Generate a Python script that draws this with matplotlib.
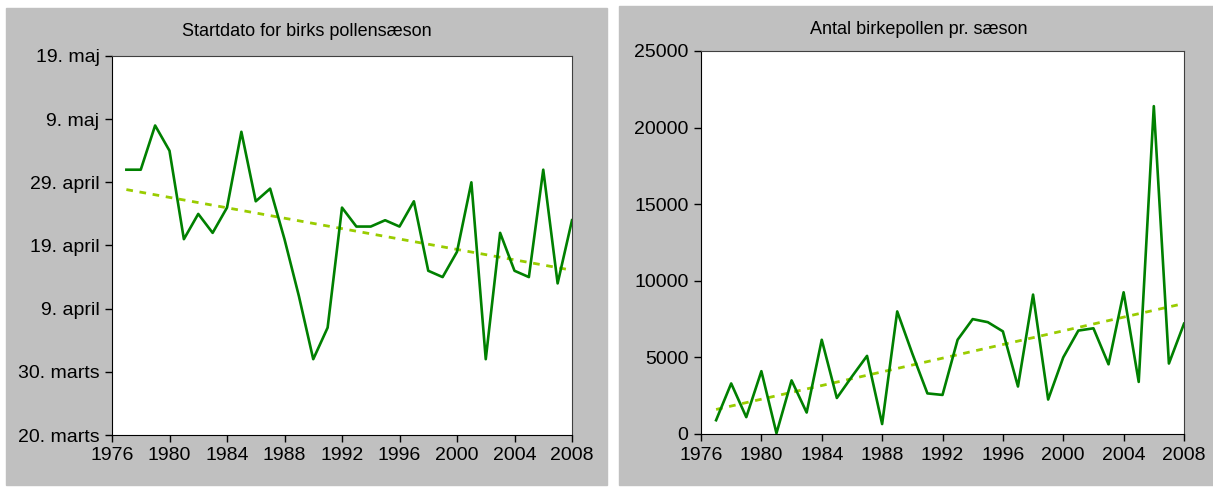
import numpy as np
import matplotlib
matplotlib.use('Agg')
import matplotlib.pyplot as plt
from matplotlib.patches import Rectangle

plt.rcParams['font.family'] = ['Liberation Sans', 'DejaVu Sans']

years = list(range(1977, 2009))

# startdato, dage efter 20. marts
start_days = [42, 42, 49, 45, 31, 35, 32, 36, 48, 37, 39, 31, 22, 12, 17, 36,
              33, 33, 34, 33, 37, 26, 25, 29, 40, 12, 32, 26, 25, 42, 24, 34]

# antal birkepollen pr. saeson
pollen = [900, 3300, 1100, 4100, 50, 3500, 1400, 6150, 2350, 3750, 5100, 650,
          8000, 5250, 2650, 2550, 6150, 7500, 7300, 6700, 3100, 9100, 2250, 5000,
          6750, 6900, 4550, 9250, 3400, 21400, 4600, 7200]

date_ticks = [0, 10, 20, 30, 40, 50, 60]
date_labels = ['20. marts', '30. marts', '9. april', '19. april',
               '29. april', '9. maj', '19. maj']
year_ticks = list(range(1976, 2009, 4))
pollen_ticks = [0, 5000, 10000, 15000, 20000, 25000]

LINE = '#008000'
TREND = '#99CC00'
PANEL = '#C0C0C0'


def style_axes(ax):
    for side in ['top', 'right']:
        ax.spines[side].set_color('#404040')
    for side in ['left', 'bottom']:
        ax.spines[side].set_color('black')
    ax.tick_params(direction='out', length=5, width=1, labelsize=14, pad=4)
    ax.set_xlim(1976, 2008)
    ax.set_xticks(year_ticks)


def draw_series(ax, x, y):
    ax.plot(x, y, color=LINE, linewidth=1.9, zorder=3)
    k, m = np.polyfit(x, y, 1)
    xx = np.array([x[0], x[-1]])
    ax.plot(xx, k * xx + m, color=TREND, linewidth=2, linestyle=(0, (2.4, 2.4)),
            zorder=2)


fig = plt.figure(figsize=(12.13, 4.87), dpi=100)
fig.patches.append(Rectangle((6 / 1213, 2 / 487), 601 / 1213, 477 / 487,
                             transform=fig.transFigure, color=PANEL, zorder=-5))
fig.patches.append(Rectangle((619 / 1213, 2 / 487), 594 / 1213, 479 / 487,
                             transform=fig.transFigure, color=PANEL, zorder=-5))

ax1 = fig.add_axes([112 / 1213, 1 - 435 / 487, 460 / 1213, 379 / 487])
draw_series(ax1, years, start_days)
ax1.set_ylim(0, 60)
ax1.set_yticks(date_ticks)
ax1.set_yticklabels(date_labels)
style_axes(ax1)
fig.text(307 / 1213, 1 - 32 / 487, 'Startdato for birks pollensæson',
         fontsize=13, ha='center', va='center')

ax2 = fig.add_axes([701 / 1213, 1 - 434 / 487, 483 / 1213, 383 / 487])
draw_series(ax2, years, pollen)
ax2.set_ylim(0, 25000)
ax2.set_yticks(pollen_ticks)
style_axes(ax2)
fig.text(919 / 1213, 1 - 30 / 487, 'Antal birkepollen pr. sæson',
         fontsize=13, ha='center', va='center')

fig.savefig('out.png', dpi=100)
